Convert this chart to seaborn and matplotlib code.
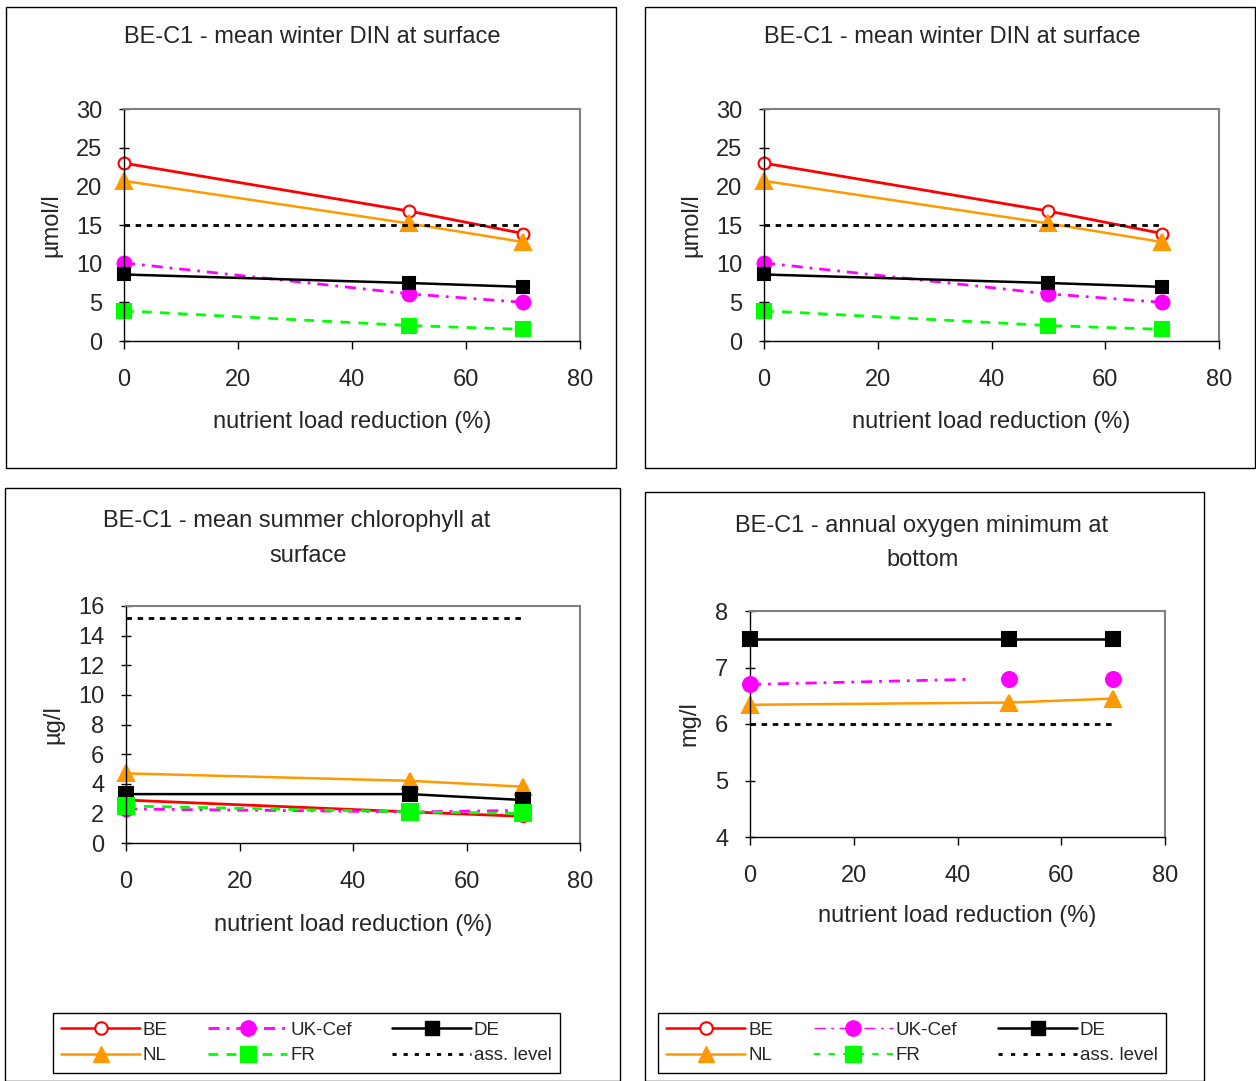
import matplotlib
matplotlib.use("Agg")
import matplotlib.pyplot as plt
import seaborn as sns
from matplotlib.patches import Rectangle
from matplotlib.lines import Line2D

sns.set_theme(style="white")
plt.rcParams['font.family'] = ['Liberation Sans', 'DejaVu Sans']

# ---------------- data ----------------
reduction = [0, 50, 70]
ass_x = [0, 70]

# winter DIN (µmol/l)
din_be = [23.0, 16.8, 13.9]
din_nl = [20.7, 15.2, 12.8]
din_uk = [10.1, 6.1, 5.0]
din_de = [8.6, 7.5, 7.0]
din_fr = [3.9, 2.0, 1.5]
din_ass = [15.0, 15.0]

# summer chlorophyll (µg/l)
chl_be = [2.9, 2.1, 1.8]
chl_nl = [4.7, 4.2, 3.8]
chl_uk = [2.3, 2.1, 2.2]
chl_de = [3.3, 3.3, 2.9]
chl_fr = [2.5, 2.1, 2.0]
chl_ass = [15.2, 15.2]

# oxygen minimum (mg/l)
o2_nl = [6.34, 6.38, 6.45]
o2_uk = [6.70, 6.80, 6.80]
o2_uk_line_x = [0, 42]
o2_uk_line_y = [6.70, 6.79]
o2_de = [7.5, 7.5, 7.5]
o2_ass = [6.0, 6.0]

W, H = 1256, 1081
fig = plt.figure(figsize=(W / 100, H / 100), dpi=100)
fig.patch.set_facecolor('white')

RED, ORANGE, MAG, GREEN, BLACK = '#FF0000', '#FF9900', '#FF00FF', '#00FF00', '#000000'
FS = 17

def ax_at(l, r, t, b):
    return fig.add_axes([l / W, 1 - b / H, (r - l) / W, (b - t) / H])

def style(ax, ylim, yticks, ylabel, ylab_x, xlab_y):
    ax.set_xlim(0, 80)
    ax.set_xticks([0, 20, 40, 60, 80])
    ax.set_ylim(*ylim)
    ax.set_yticks(yticks)
    ax.set_facecolor('white')
    for s in ['top', 'right']:
        ax.spines[s].set_color('#808080')
        ax.spines[s].set_linewidth(1.5)
    for s in ['left', 'bottom']:
        ax.spines[s].set_color('black')
        ax.spines[s].set_linewidth(1.0)
    ax.tick_params(axis='x', direction='out', length=6, width=1, color='black',
                   labelsize=FS, pad=14, bottom=True)
    ax.tick_params(axis='y', direction='inout', length=7, width=1, color='black',
                   labelsize=FS, pad=12, left=True)
    ax.set_xlabel('nutrient load reduction (%)', fontsize=FS)
    ax.set_ylabel(ylabel, fontsize=FS)
    ax.yaxis.set_label_coords(ylab_x, 0.5)
    ax.xaxis.set_label_coords(0.5, xlab_y)
    ax.grid(False)

def line(ax, x, y, color, marker, ls, ms, mfc=None, lw=1.5):
    sns.lineplot(x=x, y=y, ax=ax, color=color, marker=marker, linestyle=ls,
                 markersize=ms, markerfacecolor=mfc if mfc else color,
                 markeredgecolor=color, markeredgewidth=1.5, linewidth=lw,
                 sort=False, legend=False, clip_on=False)

UK_LS = (0, (4, 2.5, 1, 2.5))
FR_LS = (0, (3.5, 3))
ASS_LS = (0, (2, 2))

def din_panel(ax):
    line(ax, reduction, din_be, RED, 'o', '-', 8.5, mfc='white', lw=2)
    line(ax, reduction, din_nl, ORANGE, '^', '-', 11, lw=1.8)
    line(ax, reduction, din_uk, MAG, 'o', UK_LS, 10, lw=2)
    line(ax, reduction, din_de, BLACK, 's', '-', 9, lw=1.8)
    line(ax, reduction, din_fr, GREEN, 's', FR_LS, 10, lw=2)
    line(ax, ass_x, din_ass, BLACK, None, ASS_LS, 0, lw=2)
    style(ax, (0, 30), [0, 5, 10, 15, 20, 25, 30], 'µmol/l', -0.135, -0.30)

ax1 = ax_at(124, 580, 109, 341)
din_panel(ax1)
ax2 = ax_at(764, 1219, 109, 341)
din_panel(ax2)

ax3 = ax_at(126, 580, 606, 843)
line(ax3, reduction, chl_be, RED, 'o', '-', 8, mfc='white', lw=2)
line(ax3, reduction, chl_uk, MAG, 'o', UK_LS, 10, lw=2)
line(ax3, reduction, chl_nl, ORANGE, '^', '-', 11, lw=1.8)
line(ax3, reduction, chl_de, BLACK, 's', '-', 10, lw=1.8)
line(ax3, reduction, chl_fr, GREEN, 's', FR_LS, 11, lw=2)
line(ax3, ass_x, chl_ass, BLACK, None, ASS_LS, 0, lw=2)
style(ax3, (0, 16), [0, 2, 4, 6, 8, 10, 12, 14, 16], 'µg/l', -0.135, -0.30)

ax4 = ax_at(750, 1165, 611, 837)
line(ax4, reduction, o2_de, BLACK, 's', '-', 10, lw=1.8)
line(ax4, o2_uk_line_x, o2_uk_line_y, MAG, None, UK_LS, 0, lw=2)
sns.scatterplot(x=reduction, y=o2_uk, ax=ax4, color=MAG, marker='o', s=150,
                edgecolor=MAG, linewidth=0, legend=False, zorder=3, clip_on=False)
line(ax4, reduction, o2_nl, ORANGE, '^', '-', 11, lw=1.8)
line(ax4, ass_x, o2_ass, BLACK, None, ASS_LS, 0, lw=2)
style(ax4, (4, 8), [4, 5, 6, 7, 8], 'mg/l', -0.12, -0.30)

# titles
def title(x, y, s):
    fig.text(x / W, 1 - y / H, s, ha='center', va='center', fontsize=FS)

title(312, 37, 'BE-C1 - mean winter DIN at surface')
title(952, 37, 'BE-C1 - mean winter DIN at surface')
title(297, 521, 'BE-C1 - mean summer chlorophyll at')
title(308, 556, 'surface')
title(922, 526, 'BE-C1 - annual oxygen minimum at')
title(923, 560, 'bottom')

# panel boxes
for (l, r, t, b) in [(6, 616, 7, 468), (645, 1255, 7, 468), (5, 620, 488, 1081), (645, 1204, 492, 1081)]:
    fig.add_artist(Rectangle((l / W, 1 - b / H), (r - l) / W, (b - t) / H,
                             transform=fig.transFigure, fill=False,
                             edgecolor='black', linewidth=1))

# legends
def handles(uk_lw, uk_ls, fr_lw, fr_ls, ass_ls):
    return [
        Line2D([], [], color=RED, marker='o', markerfacecolor='white', markeredgecolor=RED,
               markeredgewidth=1.5, markersize=9, lw=1.8, label='BE'),
        Line2D([], [], color=ORANGE, marker='^', markersize=11, lw=1.8, label='NL'),
        Line2D([], [], color=MAG, marker='o', markersize=11, lw=uk_lw, ls=uk_ls, label='UK-Cef'),
        Line2D([], [], color=GREEN, marker='s', markersize=11, lw=fr_lw, ls=fr_ls, label='FR'),
        Line2D([], [], color=BLACK, marker='s', markersize=10, lw=1.8, label='DE'),
        Line2D([], [], color=BLACK, lw=2, ls=ass_ls, label='ass. level'),
    ]

for ax, (l, r, t, b), hs in [
        (ax3, (53, 560, 1012, 1074), handles(2, UK_LS, 2, FR_LS, (0, (1.5, 2.5)))),
        (ax4, (658, 1166, 1012, 1074), handles(1, (0, (8, 4, 2, 4)), 1.5, (0, (3, 4)), (0, (1.5, 3))))]:
    leg = ax.legend(handles=hs, ncol=3, loc='center',
                    bbox_to_anchor=(l / W, 1 - b / H, (r - l) / W, (b - t) / H),
                    bbox_transform=fig.transFigure, mode='expand', fontsize=13.5,
                    frameon=True, fancybox=False, edgecolor='black', framealpha=1,
                    handlelength=4.2, handletextpad=0.15, borderaxespad=0,
                    labelspacing=0.45, borderpad=0.45, columnspacing=1.0, numpoints=1)
    leg.get_frame().set_linewidth(1)

fig.savefig('out.png', dpi=100, facecolor='white')
